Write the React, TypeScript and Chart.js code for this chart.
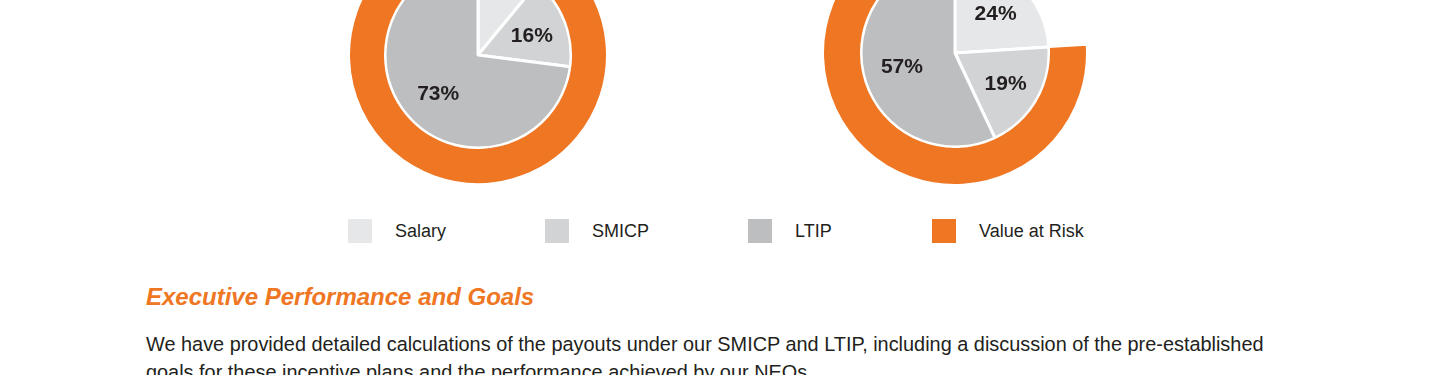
import React, { useEffect, useRef } from "react";
import { Chart, registerables } from "chart.js";

Chart.register(...registerables);

// ---- data ----
const categories = ["Salary", "SMICP", "LTIP"];
const riskLabel = "Value at Risk";
const ceoMix = [11, 16, 73];
const neoMix = [24, 19, 57];
const ceoRisk = [11, 89]; // [fixed (salary), value at risk]
const neoRisk = [24, 76];
// which slice labels are visible in the cropped picture
const ceoLabelShown = [false, true, true];
const neoLabelShown = [true, true, true];
const sliceColors = ["#E6E7E8", "#D1D3D4", "#BCBEC0"];
const riskColor = "#EF7622";
const textColor = "#231F20";
const legendLabels = [...categories, riskLabel];
const legendColors = [...sliceColors, riskColor];

const heading = "Executive Performance and Goals";
const bodyLines = [
  "We have provided detailed calculations of the payouts under our SMICP and LTIP, including a discussion of the pre-established",
  "goals for these incentive plans and the performance achieved by our NEOs.",
];

const FONT = "'Liberation Sans', Arial, Helvetica, sans-serif";

const pctLabels = {
  id: "pctLabels",
  afterDatasetsDraw(chart: any, _args: any, opts: any) {
    const ctx = chart.ctx;
    const meta = chart.getDatasetMeta(1);
    const data = chart.data.datasets[1].data as number[];
    const shown: boolean[] = opts.shown || [];
    ctx.save();
    ctx.font = `bold 21px ${FONT}`;
    ctx.fillStyle = textColor;
    ctx.textAlign = "center";
    ctx.textBaseline = "alphabetic";
    meta.data.forEach((arc: any, i: number) => {
      if (shown[i] === false) return;
      const p = arc.getProps(["x", "y", "startAngle", "endAngle", "outerRadius"], true);
      const mid = (p.startAngle + p.endAngle) / 2;
      const r = p.outerRadius * 0.6;
      ctx.fillText(`${data[i]}%`, p.x + 2 + Math.cos(mid) * r, p.y + Math.sin(mid) * r + 8);
    });
    ctx.restore();
  },
};

type PieProps = {
  mix: number[];
  risk: number[];
  shown: boolean[];
  left: number;
  width: number;
  height: number;
  centerY: number;
  radius: number;
  ringWeight: number;
  pieWeight: number;
};

function MixChart({ mix, risk, shown, left, width, height, centerY, radius, ringWeight, pieWeight }: PieProps) {
  const ref = useRef<HTMLCanvasElement | null>(null);
  useEffect(() => {
    if (!ref.current) return;
    const chart = new Chart(ref.current, {
      type: "doughnut",
      data: {
        labels: categories,
        datasets: [
          {
            data: risk,
            backgroundColor: ["rgba(0,0,0,0)", riskColor],
            borderColor: "#FFFFFF",
            borderWidth: [0, 2],
            weight: ringWeight,
            clip: false,
          } as any,
          {
            data: mix,
            backgroundColor: sliceColors,
            borderColor: "#FFFFFF",
            borderWidth: 3,
            weight: pieWeight,
            clip: false,
          } as any,
        ],
      },
      options: {
        responsive: false,
        animation: false,
        cutout: 0,
        radius,
        layout: { padding: { top: 0, left: 0, right: 0, bottom: height - centerY * 2 } },
        plugins: {
          legend: { display: false },
          tooltip: { enabled: false },
          pctLabels: { shown },
        },
      } as any,
      plugins: [pctLabels as any],
    });
    return () => chart.destroy();
  }, []);
  return (
    <canvas
      ref={ref}
      width={width}
      height={height}
      style={{ position: "absolute", left, top: 0, width, height }}
    />
  );
}

const legendX = [348, 545, 748, 932];
const legendTextX = [395, 592, 795, 979];

export default function App() {
  return (
    <div
      style={{
        position: "fixed",
        left: 0,
        top: 0,
        width: 1440,
        height: 375,
        overflow: "hidden",
        background: "#FFFFFF",
        fontFamily: FONT,
      }}
    >
      <MixChart mix={ceoMix} risk={ceoRisk} shown={ceoLabelShown} left={328} width={300} height={210} centerY={55} radius={129} ringWeight={36} pieWeight={93} />
      <MixChart mix={neoMix} risk={neoRisk} shown={neoLabelShown} left={805} width={300} height={210} centerY={53} radius={132} ringWeight={38} pieWeight={94} />

      {legendLabels.map((lab, i) => (
        <React.Fragment key={lab}>
          <div
            style={{
              position: "absolute",
              left: legendX[i],
              top: 219,
              width: 24,
              height: 24,
              background: legendColors[i],
            }}
          />
          <div
            style={{
              position: "absolute",
              left: legendTextX[i],
              top: 219,
              height: 24,
              lineHeight: "24px",
              fontSize: 18,
              color: textColor,
              whiteSpace: "nowrap",
            }}
          >
            {lab}
          </div>
        </React.Fragment>
      ))}

      <div
        style={{
          position: "absolute",
          left: 146,
          top: 285,
          fontSize: 24,
          lineHeight: "24px",
          fontWeight: "bold",
          fontStyle: "italic",
          color: riskColor,
          whiteSpace: "nowrap",
        }}
      >
        {heading}
      </div>
      <div
        style={{
          position: "absolute",
          left: 146,
          top: 331,
          fontSize: 19.9,
          lineHeight: "27.6px",
          color: textColor,
        }}
      >
        {bodyLines.map((l) => (
          <div key={l} style={{ whiteSpace: "nowrap" }}>
            {l}
          </div>
        ))}
      </div>
    </div>
  );
}
